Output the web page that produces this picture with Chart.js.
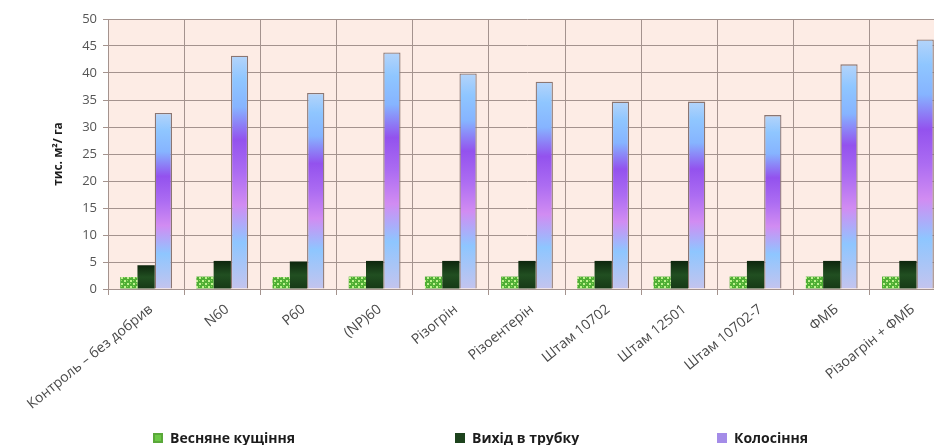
<!DOCTYPE html>
<html>
<head>
<meta charset="utf-8">
<script src="https://cdn.jsdelivr.net/npm/chart.js@4/dist/chart.umd.min.js"></script>
<style>
  html, body { margin: 0; padding: 0; background: #fff; overflow: hidden; }
  #wrap { position: relative; width: 946px; height: 445px; }
  #legend { position: absolute; left: 0; top: 428px; width: 946px; height: 18px; }
  .item { position: absolute; top: 0; display: flex; align-items: center;
          font: bold 14px "Open Sans", sans-serif; color: #1c1c1c; white-space: nowrap; }
  .sw { width: 10px; height: 10px; margin-right: 7px; box-sizing: border-box; }
</style>
</head>
<body>
<div id="wrap">
  <canvas id="c" width="946" height="445"></canvas>
  <div id="legend"></div>
</div>
<script>
// Treatments (categories on the x axis)
const categories = [
  'Контроль – без добрив', 'N60', 'P60', '(NP)60', 'Різогрін', 'Різоентерін',
  'Штам 10702', 'Штам 12501', 'Штам 10702-7', 'ФМБ', 'Різоагрін + ФМБ'
];
// Leaf area by growth stage, thousand m² per hectare
const tilleringValues = [2.2, 2.3, 2.2, 2.3, 2.3, 2.3, 2.3, 2.3, 2.3, 2.3, 2.3];
const bootingValues   = [4.4, 5.2, 5.1, 5.2, 5.2, 5.2, 5.2, 5.2, 5.2, 5.2, 5.2];
const headingValues   = [32.6, 43.2, 36.3, 43.8, 39.9, 38.4, 34.7, 34.7, 32.2, 41.6, 46.2];
const seriesNames = ['Весняне кущіння', 'Вихід в трубку', 'Колосіння'];
const yTicks = [0, 5, 10, 15, 20, 25, 30, 35, 40, 45, 50];

const canvas = document.getElementById('c');
const ctx2d = canvas.getContext('2d');

// Small checkered tile for the spring-tillering bars
function makeCheckerPattern() {
  const t = document.createElement('canvas');
  t.width = 6; t.height = 6;
  const g = t.getContext('2d');
  g.fillStyle = '#4fae35';
  g.fillRect(0, 0, 6, 6);
  g.fillStyle = '#bff28f';
  g.fillRect(1, 1, 2, 2);
  g.fillRect(4, 4, 2, 2);
  g.fillStyle = '#8fdc5c';
  g.fillRect(4, 1, 1, 1);
  g.fillRect(1, 4, 1, 1);
  return ctx2d.createPattern(t, 'repeat');
}
const checker = makeCheckerPattern();

// Vertical gradient stretched over each heading bar, from its top to the baseline
function headingFill(context) {
  const chart = context.chart;
  if (!chart.chartArea) return '#a070f0';
  const y = chart.scales.y;
  const v = context.dataset.data[context.dataIndex];
  const top = y.getPixelForValue(v);
  const bot = y.getPixelForValue(0);
  const g = chart.ctx.createLinearGradient(0, top, 0, bot);
  g.addColorStop(0.00, '#b4d4fa');
  g.addColorStop(0.10, '#8fc6ff');
  g.addColorStop(0.22, '#86b4ff');
  g.addColorStop(0.36, '#9352ee');
  g.addColorStop(0.50, '#ac6cf2');
  g.addColorStop(0.64, '#d18cf2');
  g.addColorStop(0.80, '#8ec6ff');
  g.addColorStop(1.00, '#c4c4ee');
  return g;
}

function bootingFill(context) {
  const chart = context.chart;
  if (!chart.chartArea) return '#1d431d';
  const y = chart.scales.y;
  const v = context.dataset.data[context.dataIndex];
  const top = y.getPixelForValue(v);
  const bot = y.getPixelForValue(0);
  const g = chart.ctx.createLinearGradient(0, top, 0, bot);
  g.addColorStop(0, '#0e260e');
  g.addColorStop(0.5, '#214f21');
  g.addColorStop(1, '#163816');
  return g;
}

// Peach plot background
const plotBackground = {
  id: 'plotBackground',
  beforeDraw(chart) {
    const { ctx, chartArea: a } = chart;
    ctx.save();
    ctx.fillStyle = '#fdece5';
    ctx.fillRect(a.left, a.top, a.right - a.left, a.bottom - a.top);
    ctx.restore();
  }
};

const chart = new Chart(canvas, {
  type: 'bar',
  data: {
    labels: categories,
    datasets: [
      { label: seriesNames[0], data: tilleringValues, backgroundColor: checker,
        borderWidth: 0 },
      { label: seriesNames[1], data: bootingValues, backgroundColor: bootingFill,
        borderWidth: 0 },
      { label: seriesNames[2], data: headingValues, backgroundColor: headingFill,
        borderColor: '#8b7672', borderWidth: 1.3 }
    ]
  },
  options: {
    responsive: false,
    animation: false,
    events: [],
    layout: { padding: { top: 19, right: 0, bottom: 0, left: 0 } },
    datasets: { bar: { categoryPercentage: 0.68, barPercentage: 1.0 } },
    plugins: { legend: { display: false }, tooltip: { enabled: false } },
    scales: {
      x: {
        grid: { offset: true, color: '#a4938e', lineWidth: 1, tickLength: 6, drawTicks: true },
        border: { color: '#a4938e' },
        ticks: {
          autoSkip: false, maxRotation: 39, minRotation: 39, labelOffset: 5, padding: 6,
          color: '#4a4a4a', font: { family: '"Open Sans", sans-serif', size: 14 }
        },
        afterFit(scale) { scale.height = 156; }
      },
      y: {
        min: 0, max: 50,
        afterBuildTicks(scale) { scale.ticks = yTicks.map(v => ({ value: v })); },
        grid: { color: '#a4938e', lineWidth: 1, tickLength: 5 },
        border: { color: '#a4938e' },
        ticks: { color: '#555', padding: 6, font: { family: '"Open Sans", sans-serif', size: 13 } },
        title: {
          display: true, text: 'тис. м²/ га', color: '#1c1c1c',
          font: { family: '"Open Sans", sans-serif', size: 12, weight: 'bold' },
          padding: { top: 51, bottom: 0 }
        },
        afterFit(scale) { scale.width = 108; }
      }
    }
  },
  plugins: [plotBackground]
});

// Legend row under the chart, built from the datasets
const legendSwatches = ['#6cc846', '#1d431d', '#a48ce8'];
const legendLeft = [153, 455, 717];
const legend = document.getElementById('legend');
chart.data.datasets.forEach((ds, i) => {
  const item = document.createElement('div');
  item.className = 'item';
  item.style.left = legendLeft[i] + 'px';
  const sw = document.createElement('span');
  sw.className = 'sw';
  sw.style.background = legendSwatches[i];
  if (i === 0) sw.style.border = '2px solid #5aa83a';
  const tx = document.createElement('span');
  tx.textContent = ds.label;
  item.appendChild(sw);
  item.appendChild(tx);
  legend.appendChild(item);
});
</script>
</body>
</html>
